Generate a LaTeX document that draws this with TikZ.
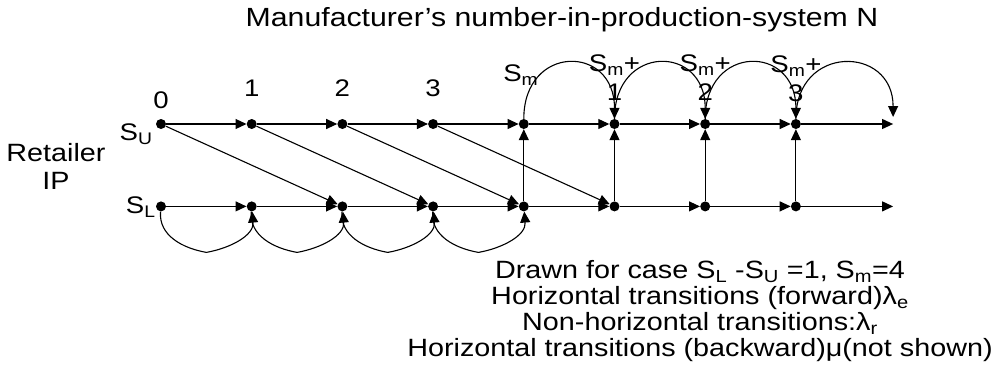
\documentclass[tikz,border=0pt]{standalone}
\usepackage{fontspec}
\setmainfont[FakeStretch=1.15]{Liberation Sans}
\usetikzlibrary{positioning, arrows.meta, calc}

\begin{document}
\begin{tikzpicture}[
    x=1pt, y=1pt,
    % states of the chain
    state/.style={
        circle,
        fill=black,
        inner sep=0pt,
        minimum size=10pt
    },
    arr/.style={-{Triangle[length=11pt, width=10pt]}, line width=1.1pt},
    lbl/.style={inner sep=0pt, font=\fontsize{24}{29}\selectfont, align=center},
    txt/.style={inner sep=0pt, font=\fontsize{25}{26}\selectfont, align=center}
]
    \useasboundingbox (0,0) rectangle (994,-372);

    % --- Nodes ---
    \node[state] (u0) at (161,-124) {};
    \node[state, right=80.3pt of u0] (u1) {};
    \node[state, right=80.3pt of u1] (u2) {};
    \node[state, right=80.3pt of u2] (u3) {};
    \node[state, right=80.3pt of u3] (u4) {};
    \node[state, right=80.3pt of u4] (u5) {};
    \node[state, right=80.3pt of u5] (u6) {};
    \node[state, right=80.3pt of u6] (u7) {};
    \coordinate[right=92pt of u7] (uend);
    \coordinate (arcend) at ($(uend)+(0,7)$);

    \node[state, below=72pt of u0] (l0) {};
    \node[state, below=72pt of u1] (l1) {};
    \node[state, below=72pt of u2] (l2) {};
    \node[state, below=72pt of u3] (l3) {};
    \node[state, below=72pt of u4] (l4) {};
    \node[state, below=72pt of u5] (l5) {};
    \node[state, below=72pt of u6] (l6) {};
    \node[state, below=72pt of u7] (l7) {};
    \coordinate[right=92pt of l7] (lend);

    % --- Labels ---
    \node[lbl, font=\fontsize{26.3}{30}\selectfont] (title) at (562,-20)
        {Manufacturer’s number-in-production-system N};
    \node[lbl, font=\fontsize{25}{28}\selectfont] (retailer) at (56,-166) {Retailer\\IP};

    \node[lbl, above=10pt of u0] (n0) {0};
    \node[lbl, above=22pt of u1] (n1) {1};
    \node[lbl, above=22pt of u2] (n2) {2};
    \node[lbl, above=22pt of u3] (n3) {3};
    \node[lbl, left=3pt of u0, yshift=-10pt] (su) {S\textsubscript{U}};
    \node[lbl, left=0pt of l0, yshift=-1pt] (sl) {S\textsubscript{L}};

    \node[lbl] (nm) at ($(u4)+(-3,49)$) {S\textsubscript{m}};
    \node[lbl] (nm1) at ($(u5)+(0,46)$) {S\textsubscript{m}+\\1};
    \node[lbl] (nm2) at ($(u6)+(0,46)$) {S\textsubscript{m}+\\2};
    \node[lbl] (nm3) at ($(u7)+(0,45)$) {S\textsubscript{m}+\\3};

    \node[txt] (note) at (700,-311)
        {Drawn for case S\textsubscript{L} -S\textsubscript{U} =1, S\textsubscript{m}=4\\
         Horizontal transitions (forward)λ\textsubscript{e}\\
         Non-horizontal transitions:λ\textsubscript{r}\\
         Horizontal transitions (backward)μ(not shown)};

    % --- Edges ---
    % horizontal (forward), upper row
    \draw[arr] (u0) -- (u1);
    \draw[arr] (u1) -- (u2);
    \draw[arr] (u2) -- (u3);
    \draw[arr] (u3) -- (u4);
    \draw[arr] (u4) -- (u5);
    \draw[arr] (u5) -- (u6);
    \draw[arr] (u6) -- (u7);
    \draw[arr] (u7) -- (uend);

    % horizontal (forward), lower row
    \draw[arr] (l0) -- (l1);
    \draw[arr] (l1) -- (l2);
    \draw[arr] (l2) -- (l3);
    \draw[arr] (l3) -- (l4);
    \draw[arr] (l4) -- (l5);
    \draw[arr] (l5) -- (l6);
    \draw[arr] (l6) -- (l7);
    \draw[arr] (l7) -- (lend);

    % non-horizontal: diagonals and verticals
    \draw[arr] (u0) -- (l2);
    \draw[arr] (u1) -- (l3);
    \draw[arr] (u2) -- (l4);
    \draw[arr] (u3) -- (l5);
    \draw[arr] (l4) -- (u4);
    \draw[arr] (l5) -- (u5);
    \draw[arr] (l6) -- (u6);
    \draw[arr] (l7) -- (u7);

    % arcs above the upper row
    \draw[arr] (u4) .. controls +(0,80) and +(0,80) .. (u5);
    \draw[arr] (u5) .. controls +(0,80) and +(0,80) .. (u6);
    \draw[arr] (u6) .. controls +(0,80) and +(0,80) .. (u7);
    \draw[arr] (u7) .. controls +(0,80) and +(0,72) .. (arcend);

    % arcs below the lower row
    \draw[arr] (l0) to[out=-95, in=170] ($(l0)!0.5!(l1)+(0,-46)$) to[out=10, in=-85] (l1);
    \draw[arr] (l1) to[out=-95, in=170] ($(l1)!0.5!(l2)+(0,-46)$) to[out=10, in=-85] (l2);
    \draw[arr] (l2) to[out=-95, in=170] ($(l2)!0.5!(l3)+(0,-46)$) to[out=10, in=-85] (l3);
    \draw[arr] (l3) to[out=-95, in=170] ($(l3)!0.5!(l4)+(0,-46)$) to[out=10, in=-85] (l4);

\end{tikzpicture}
\end{document}
